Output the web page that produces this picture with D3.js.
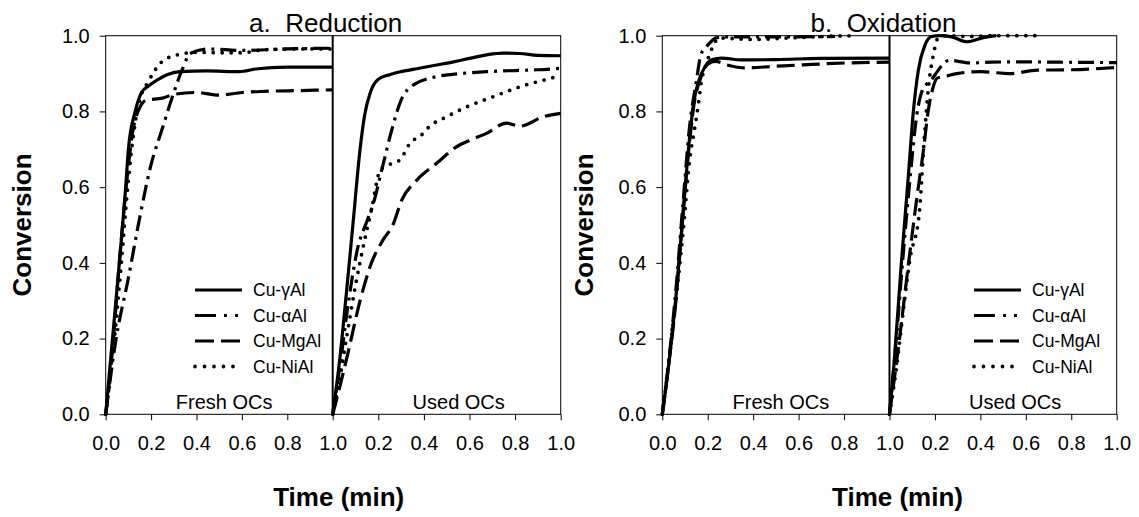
<!DOCTYPE html>
<html><head><meta charset="utf-8">
<script src="https://cdn.jsdelivr.net/npm/d3@7/dist/d3.min.js"></script>
<style>
html,body{margin:0;padding:0;background:#fff;}
svg text{font-family:"Liberation Sans",Arial,Helvetica,sans-serif;fill:#000;white-space:pre;}
</style></head>
<body><svg id="c" width="1139" height="517"></svg>
<script>
// ---------------- DATA ----------------
const seriesNames = ["Cu-γAl", "Cu-αAl", "Cu-MgAl", "Cu-NiAl"];
const chartTitles = ["a.  Reduction", "b.  Oxidation"];
const panelLabels = ["Fresh OCs", "Used OCs"];
const yTicks = [0, 0.2, 0.4, 0.6, 0.8, 1.0];
const xTicksFresh = [0, 0.2, 0.4, 0.6, 0.8, 1.0];
const xTicksUsed = [0.2, 0.4, 0.6, 0.8, 1.0];

// Reduction – fresh OCs  [time (min), conversion]
const redFreshGamma = [[0,0],[0.03,0.2],[0.06,0.4],[0.088,0.6],[0.1,0.7],[0.13,0.8],[0.158,0.85],[0.19,0.868],[0.224,0.882],[0.27,0.897],[0.327,0.905],[0.445,0.907],[0.59,0.905],[0.66,0.912],[0.8,0.917],[1.0,0.917]];
const redFreshAlpha = [[0,0],[0.046,0.2],[0.1,0.36],[0.15,0.52],[0.2,0.66],[0.247,0.75],[0.3,0.85],[0.34,0.915],[0.371,0.953],[0.45,0.965],[0.6,0.961],[0.8,0.965],[1.0,0.967]];
const redFreshMg = [[0,0],[0.03,0.17],[0.06,0.4],[0.09,0.6],[0.12,0.75],[0.15,0.81],[0.18,0.83],[0.25,0.835],[0.3,0.845],[0.4,0.85],[0.5,0.843],[0.6,0.85],[0.7,0.853],[0.85,0.855],[1.0,0.857]];
const redFreshNi = [[0,0],[0.03,0.15],[0.069,0.4],[0.097,0.6],[0.125,0.75],[0.15,0.83],[0.188,0.879],[0.247,0.931],[0.313,0.949],[0.4,0.956],[0.5,0.955],[0.6,0.955],[0.7,0.963],[0.85,0.965],[1.0,0.965]];

// Reduction – used OCs
const redUsedGamma = [[0,0],[0.03,0.14],[0.06,0.32],[0.09,0.51],[0.12,0.7],[0.14,0.79],[0.165,0.85],[0.2,0.885],[0.25,0.897],[0.3,0.905],[0.38,0.914],[0.45,0.922],[0.53,0.931],[0.6,0.94],[0.68,0.95],[0.75,0.954],[0.82,0.953],[0.9,0.948],[1.0,0.947]];
const redUsedAlpha = [[0,0],[0.03,0.12],[0.07,0.3],[0.11,0.44],[0.15,0.51],[0.18,0.56],[0.215,0.645],[0.259,0.751],[0.3,0.83],[0.354,0.87],[0.456,0.892],[0.56,0.9],[0.675,0.905],[0.8,0.908],[0.9,0.91],[1.0,0.914]];
const redUsedMg = [[0,0],[0.03,0.07],[0.07,0.17],[0.12,0.3],[0.17,0.4],[0.22,0.46],[0.264,0.5],[0.303,0.566],[0.368,0.618],[0.456,0.663],[0.544,0.707],[0.602,0.724],[0.675,0.742],[0.763,0.769],[0.821,0.761],[0.924,0.786],[1.0,0.795]];
const redUsedNi = [[0,0],[0.03,0.09],[0.06,0.2],[0.1,0.34],[0.14,0.46],[0.17,0.54],[0.209,0.646],[0.25,0.66],[0.295,0.672],[0.339,0.716],[0.39,0.738],[0.424,0.76],[0.5,0.786],[0.588,0.812],[0.704,0.839],[0.821,0.865],[0.953,0.887],[1.0,0.895]];

// Oxidation – fresh OCs
const oxFreshGamma = [[0,0],[0.03,0.14],[0.06,0.31],[0.09,0.52],[0.12,0.73],[0.14,0.83],[0.16,0.88],[0.19,0.92],[0.22,0.937],[0.26,0.941],[0.35,0.936],[0.5,0.937],[0.7,0.94],[1.0,0.941]];
const oxFreshAlpha = [[0,0],[0.03,0.15],[0.06,0.33],[0.09,0.55],[0.12,0.76],[0.15,0.88],[0.17,0.95],[0.2,0.975],[0.24,0.995],[0.3,0.997],[0.5,0.997],[0.76,0.998]];
const oxFreshMg = [[0,0],[0.03,0.14],[0.06,0.3],[0.09,0.52],[0.12,0.72],[0.14,0.82],[0.17,0.89],[0.2,0.925],[0.235,0.932],[0.283,0.923],[0.363,0.915],[0.49,0.919],[0.62,0.923],[0.81,0.928],[1.0,0.93]];
const oxFreshNi = [[0,0],[0.043,0.214],[0.091,0.478],[0.122,0.68],[0.139,0.743],[0.159,0.82],[0.171,0.875],[0.195,0.928],[0.219,0.967],[0.25,0.994],[0.395,0.99],[0.555,0.994],[0.715,0.998],[0.843,1.0]];

// Oxidation – used OCs
const oxUsedGamma = [[0,0],[0.019,0.126],[0.051,0.39],[0.083,0.63],[0.105,0.8],[0.127,0.909],[0.156,0.975],[0.185,0.998],[0.22,1.0],[0.274,0.997],[0.34,0.984],[0.413,0.995],[0.47,1.0]];
const oxUsedAlpha = [[0,0],[0.03,0.2],[0.06,0.42],[0.09,0.62],[0.12,0.79],[0.149,0.862],[0.18,0.88],[0.215,0.909],[0.24,0.928],[0.266,0.935],[0.354,0.928],[0.45,0.93],[0.574,0.931],[0.75,0.93],[1.0,0.929]];
const oxUsedMg = [[0,0],[0.04,0.18],[0.08,0.38],[0.12,0.57],[0.15,0.7],[0.17,0.8],[0.19,0.86],[0.21,0.888],[0.25,0.893],[0.296,0.9],[0.4,0.905],[0.53,0.9],[0.65,0.909],[0.8,0.91],[1.0,0.916]];
const oxUsedNi = [[0,0],[0.03,0.12],[0.06,0.27],[0.09,0.41],[0.131,0.531],[0.155,0.743],[0.171,0.86],[0.195,0.955],[0.21,0.99],[0.25,1.0],[0.35,0.998],[0.45,1.0],[0.55,1.0],[0.67,1.0]];

const reductionFresh = [redFreshGamma, redFreshAlpha, redFreshMg, redFreshNi];
const reductionUsed = [redUsedGamma, redUsedAlpha, redUsedMg, redUsedNi];
const oxidationFresh = [oxFreshGamma, oxFreshAlpha, oxFreshMg, oxFreshNi];
const oxidationUsed = [oxUsedGamma, oxUsedAlpha, oxUsedMg, oxUsedNi];

// ---------------- STYLE / LAYOUT ----------------
const styles = [
  {dash: null, legDash: null, w: 3.2, cap: "butt"},
  {dash: "16,6,3,6", legDash: "21,8,3,8,3,8", w: 3.2, cap: "butt"},
  {dash: "18,7", legDash: "19,7", w: 3.2, cap: "butt"},
  {dash: "0,9", legDash: "0,9.5", w: 3.8, cap: "round"}
];
const layouts = [
  {x0: 105.7, xm: 332.7, x1: 560.7, fresh: reductionFresh, used: reductionUsed,
   legX: 195, legTextX: 253, legY: 290, ylabX: 31, titleDx: -7, xlabDx: 6},
  {x0: 662.3, xm: 889.5, x1: 1116.7, fresh: oxidationFresh, used: oxidationUsed,
   legX: 974, legTextX: 1032, legY: 290, ylabX: 593, titleDx: -6, xlabDx: 8}
];
const yTop = 35.7, yBot = 414.3;

const svg = d3.select("#c");

layouts.forEach((L, ci) => {
  const g = svg.append("g");
  const y = d3.scaleLinear().domain([0, 1]).range([yBot, yTop]);
  const xF = d3.scaleLinear().domain([0, 1]).range([L.x0, L.xm]);
  const xU = d3.scaleLinear().domain([0, 1]).range([L.xm, L.x1]);

  // frame
  g.append("rect").attr("x", L.x0).attr("y", yTop).attr("width", L.x1 - L.x0).attr("height", yBot - yTop)
    .attr("fill", "none").attr("stroke", "#000").attr("stroke-width", 1);
  g.append("line").attr("x1", L.xm).attr("x2", L.xm).attr("y1", yTop).attr("y2", yBot)
    .attr("stroke", "#000").attr("stroke-width", 2);

  // axes
  const yAxis = d3.axisLeft(y).tickValues(yTicks).tickFormat(d3.format(".1f")).tickSize(6).tickPadding(10);
  const ya = g.append("g").attr("transform", `translate(${L.x0},0)`).call(yAxis);
  const xaF = g.append("g").attr("transform", `translate(0,${yBot})`)
    .call(d3.axisBottom(xF).tickValues(xTicksFresh).tickFormat(d3.format(".1f")).tickSize(6).tickPadding(16));
  const xaU = g.append("g").attr("transform", `translate(0,${yBot})`)
    .call(d3.axisBottom(xU).tickValues(xTicksUsed).tickFormat(d3.format(".1f")).tickSize(6).tickPadding(16));
  [ya, xaF, xaU].forEach(a => {
    a.select(".domain").remove();
    a.selectAll("line").attr("stroke", "#000").attr("stroke-width", 1);
    a.selectAll("text").attr("font-size", 20).attr("font-family", "Liberation Sans, Arial, sans-serif").attr("fill", "#000");
  });

  // curves
  const mkLine = xs => d3.line().x(d => xs(d[0])).y(d => y(d[1])).curve(d3.curveMonotoneX);
  [[L.fresh, xF], [L.used, xU]].forEach(([sets, xs]) => {
    sets.forEach((data, si) => {
      const st = styles[si];
      g.append("path").datum(data).attr("d", mkLine(xs))
        .attr("fill", "none").attr("stroke", "#000").attr("stroke-width", st.w)
        .attr("stroke-linecap", st.cap).attr("stroke-linejoin", "round")
        .attr("stroke-dasharray", st.dash);
    });
  });

  // panel labels
  g.append("text").attr("x", (L.x0 + L.xm) / 2 + 5).attr("y", 409).attr("text-anchor", "middle")
    .attr("font-size", 20).text(panelLabels[0]);
  g.append("text").attr("x", (L.xm + L.x1) / 2 + 12).attr("y", 409).attr("text-anchor", "middle")
    .attr("font-size", 20).text(panelLabels[1]);

  // legend
  seriesNames.forEach((name, si) => {
    const st = styles[si];
    const yy = L.legY + si * 25.5;
    g.append("line").attr("x1", L.legX).attr("x2", L.legX + 47).attr("y1", yy).attr("y2", yy)
      .attr("stroke", "#000").attr("stroke-width", st.w).attr("stroke-linecap", st.cap)
      .attr("stroke-dasharray", st.legDash);
    g.append("text").attr("x", L.legTextX).attr("y", yy + 6).attr("font-size", 17.5).text(name);
  });

  // title
  g.append("text").attr("x", L.xm + L.titleDx).attr("y", 32).attr("text-anchor", "middle")
    .attr("font-size", 26).text(chartTitles[ci]);
  // axis labels
  g.append("text").attr("transform", `translate(${L.ylabX},225) rotate(-90)`).attr("text-anchor", "middle")
    .attr("font-size", 26).attr("font-weight", "bold").text("Conversion");
  g.append("text").attr("x", L.xm + L.xlabDx).attr("y", 506).attr("text-anchor", "middle")
    .attr("font-size", 26).attr("font-weight", "bold").text("Time (min)");
});
</script></body></html>
